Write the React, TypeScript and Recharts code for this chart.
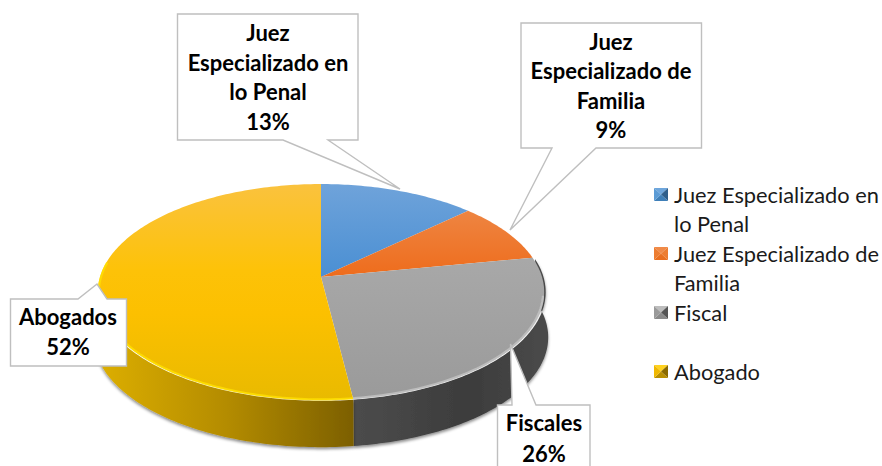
import React from 'react';
import { PieChart, Pie, Legend } from 'recharts';

const categories = ['Juez Especializado en lo Penal', 'Juez Especializado de Familia', 'Fiscal', 'Abogado'];
const values = [13, 9, 26, 52];
const labelLines = [
  ['Juez', 'Especializado en', 'lo Penal'],
  ['Juez', 'Especializado de', 'Familia'],
  ['Fiscales'],
  ['Abogados'],
];

const topFills = ['url(#topBlue)', 'url(#topOrange)', 'url(#topGray)', 'url(#topYellow)'];
const wallFills = ['#2e6ea6', '#b4541a', 'url(#wallGray)', 'url(#wallYellow)'];
const rimColors = ['#7fb0e0', '#f39a60', '#c4c4c4', '#ffe100'];
// top, right, bottom, left faces of the small legend pyramids
const legendTones = [
  ['#6ea6dc', '#2f5f8c', '#3f7fb8', '#5b9bd5'],
  ['#f08a48', '#ed7d31', '#e96f1f', '#ed7d31'],
  ['#bdbdbd', '#555555', '#8a8a8a', '#9a9a9a'],
  ['#ffd21f', '#8a6a00', '#b98f00', '#f0b800'],
];

const calloutLayout = [
  { box: [177.5, 14, 358, 140], base: [283, 328], tip: [400, 189], cx: 268, ys: [41, 71, 100, 130] },
  { box: [521, 23, 701.5, 148], base: [552, 596], tip: [510, 230], cx: 611, ys: [50, 79, 109, 138] },
  { box: [497.5, 405, 590, 480], base: [512, 536], tip: [510.5, 344], cx: 544, ys: [431, 462] },
  { box: [10.5, 299, 126.5, 366], base: [78, 107], tip: [97, 284], cx: 68, ys: [325, 355] },
];

const chartFont = 'Lato, sans-serif';
const K = 0.139; // perspective of the tilted disc
const SQUASH = 0.479;
const DEPTH = 45;

// project an angle on the flat disc to the screen, theta is clockwise from 12 o'clock
const project = (cx: number, cy: number, r: number, theta: number, dy = 0) => {
  const t = (theta * Math.PI) / 180;
  const u = Math.sin(t);
  const v = Math.cos(t);
  const d = 1 + K * v;
  return [cx + (r * u) / d, cy - (r * SQUASH * v) / d + dy];
};

const arcPoints = (cx: number, cy: number, r: number, from: number, to: number, dy = 0) => {
  const pts: number[][] = [];
  const steps = Math.max(1, Math.ceil(Math.abs(to - from)));
  for (let i = 0; i <= steps; i++) {
    pts.push(project(cx, cy, r, from + ((to - from) * i) / steps, dy));
  }
  return pts;
};

const toPath = (pts: number[][]) => pts.map((p, i) => `${i ? 'L' : 'M'}${p[0].toFixed(2)} ${p[1].toFixed(2)}`).join(' ');

const TiltedSlice = (props: any) => {
  const { cx, cy, outerRadius, startAngle, endAngle, index } = props;
  const from = 90 - startAngle;
  const to = 90 - endAngle;
  const arc = arcPoints(cx, cy, outerRadius, from, to);
  const wallFrom = Math.max(from, 80);
  const wallTo = Math.min(to, 262);
  const rimFrom = Math.max(from, 100);
  const rimTo = Math.min(to, 278);
  return (
    <g>
      {wallTo > wallFrom && (
        <path
          d={`${toPath(arcPoints(cx, cy, outerRadius + 1.5, wallFrom, wallTo))} L${toPath(arcPoints(cx, cy, outerRadius + 4, wallTo, wallFrom, DEPTH)).slice(1)} Z`}
          fill={wallFills[index]}
          filter="url(#wallShadow)"
        />
      )}
      <path d={`M${cx} ${cy} L${toPath(arc).slice(1)} Z`} fill={topFills[index]} />
      {rimTo > rimFrom && (
        <path
          d={toPath(arcPoints(cx, cy, outerRadius - 1, rimFrom, rimTo))}
          fill="none"
          stroke={rimColors[index]}
          strokeOpacity={0.8}
          strokeWidth={2.2}
          filter="url(#rimBlur)"
        />
      )}
    </g>
  );
};

const Callout = (props: any) => {
  const { index } = props;
  const { box, base, tip, cx, ys } = calloutLayout[index];
  const [x0, y0, x1, y1] = box;
  // pointer leaves the top or the bottom of the box, whichever faces the tip
  const edge = tip[1] < y0 ? y0 : y1;
  const pts =
    edge === y0
      ? [[x0, y0], [base[0], y0], tip, [base[1], y0], [x1, y0], [x1, y1], [x0, y1]]
      : [[x0, y0], [x1, y0], [x1, y1], [base[1], y1], tip, [base[0], y1], [x0, y1]];
  const lines = [...labelLines[index], `${values[index]}%`];
  return (
    <g>
      <polygon points={pts.map((p) => p.join(',')).join(' ')} fill="#fff" stroke="#bfbfbf" strokeWidth={1.4} />
      {lines.map((line, i) => (
        <text key={line} x={cx} y={ys[i]} textAnchor="middle" fontFamily={chartFont} fontWeight={700} fontSize={22} fill="#000">
          {line}
        </text>
      ))}
    </g>
  );
};

const LegendIcon = ({ tones }: { tones: string[] }) => (
  <svg width={14} height={13} style={{ position: 'absolute', left: 0, top: 8 }}>
    <polygon points="0,0 14,0 7,6.5" fill={tones[0]} />
    <polygon points="14,0 14,13 7,6.5" fill={tones[1]} />
    <polygon points="0,13 14,13 7,6.5" fill={tones[2]} />
    <polygon points="0,0 0,13 7,6.5" fill={tones[3]} />
  </svg>
);

const renderLegend = ({ payload }: any) => (
  <div style={{ fontFamily: chartFont, fontSize: 21.8, lineHeight: '29px', color: '#1a1a1a' }}>
    {(payload || []).map((entry: any, i: number) => (
      <div key={entry.value} style={{ position: 'relative', paddingLeft: 20, marginBottom: i === 2 ? 30 : 1 }}>
        <LegendIcon tones={legendTones[i]} />
        {entry.value}
      </div>
    ))}
  </div>
);

const data = categories.map((name, i) => ({ name, value: values[i], fill: legendTones[i][3] }));

export default function App() {
  return (
    <div style={{ position: 'absolute', left: 0, top: 0, width: 882, height: 466, overflow: 'hidden', background: '#fff' }}>
      <PieChart width={882} height={466} margin={{ top: 0, right: 0, bottom: 0, left: 0 }}>
        <defs>
          <linearGradient id="topBlue" gradientUnits="userSpaceOnUse" x1="0" y1="184" x2="0" y2="277">
            <stop offset="0" stopColor="#6fa3da" />
            <stop offset="1" stopColor="#4a8fd3" />
          </linearGradient>
          <linearGradient id="topOrange" gradientUnits="userSpaceOnUse" x1="0" y1="210" x2="0" y2="277">
            <stop offset="0" stopColor="#ee8542" />
            <stop offset="1" stopColor="#ee6c1c" />
          </linearGradient>
          <linearGradient id="topGray" gradientUnits="userSpaceOnUse" x1="0" y1="260" x2="0" y2="400">
            <stop offset="0" stopColor="#a8a8a8" />
            <stop offset="1" stopColor="#9a9a9a" />
          </linearGradient>
          <linearGradient id="topYellow" gradientUnits="userSpaceOnUse" x1="0" y1="184" x2="0" y2="400">
            <stop offset="0" stopColor="#fac23e" />
            <stop offset="0.4" stopColor="#fdc208" />
            <stop offset="0.6" stopColor="#fcc000" />
            <stop offset="1" stopColor="#e9ba00" />
          </linearGradient>
          <linearGradient id="wallYellow" gradientUnits="userSpaceOnUse" x1="100" y1="0" x2="352" y2="0">
            <stop offset="0" stopColor="#dcae00" />
            <stop offset="0.5" stopColor="#b48c00" />
            <stop offset="1" stopColor="#7d6000" />
          </linearGradient>
          <linearGradient id="wallGray" gradientUnits="userSpaceOnUse" x1="352" y1="0" x2="547" y2="0">
            <stop offset="0" stopColor="#4c4c4c" />
            <stop offset="0.6" stopColor="#3c3c3c" />
            <stop offset="1" stopColor="#4a4a4a" />
          </linearGradient>
          <filter id="wallShadow" x="-10%" y="-10%" width="120%" height="130%">
            <feDropShadow dx="0" dy="2" stdDeviation="1.6" floodColor="#000" floodOpacity="0.45" />
          </filter>
          <filter id="rimBlur" x="-5%" y="-5%" width="110%" height="110%">
            <feGaussianBlur stdDeviation="0.7" />
          </filter>
        </defs>
        <Pie
          data={data}
          dataKey="value"
          nameKey="name"
          cx={321}
          cy={277}
          innerRadius={0}
          outerRadius={221}
          startAngle={90}
          endAngle={-270}
          stroke="none"
          shape={TiltedSlice}
          label={Callout}
          labelLine={false}
          isAnimationActive={false}
        />
        <Legend
          layout="vertical"
          align="right"
          verticalAlign="top"
          content={renderLegend}
          itemSorter={null}
          wrapperStyle={{ left: 654, top: 180, width: 228 }}
        />
      </PieChart>
    </div>
  );
}
